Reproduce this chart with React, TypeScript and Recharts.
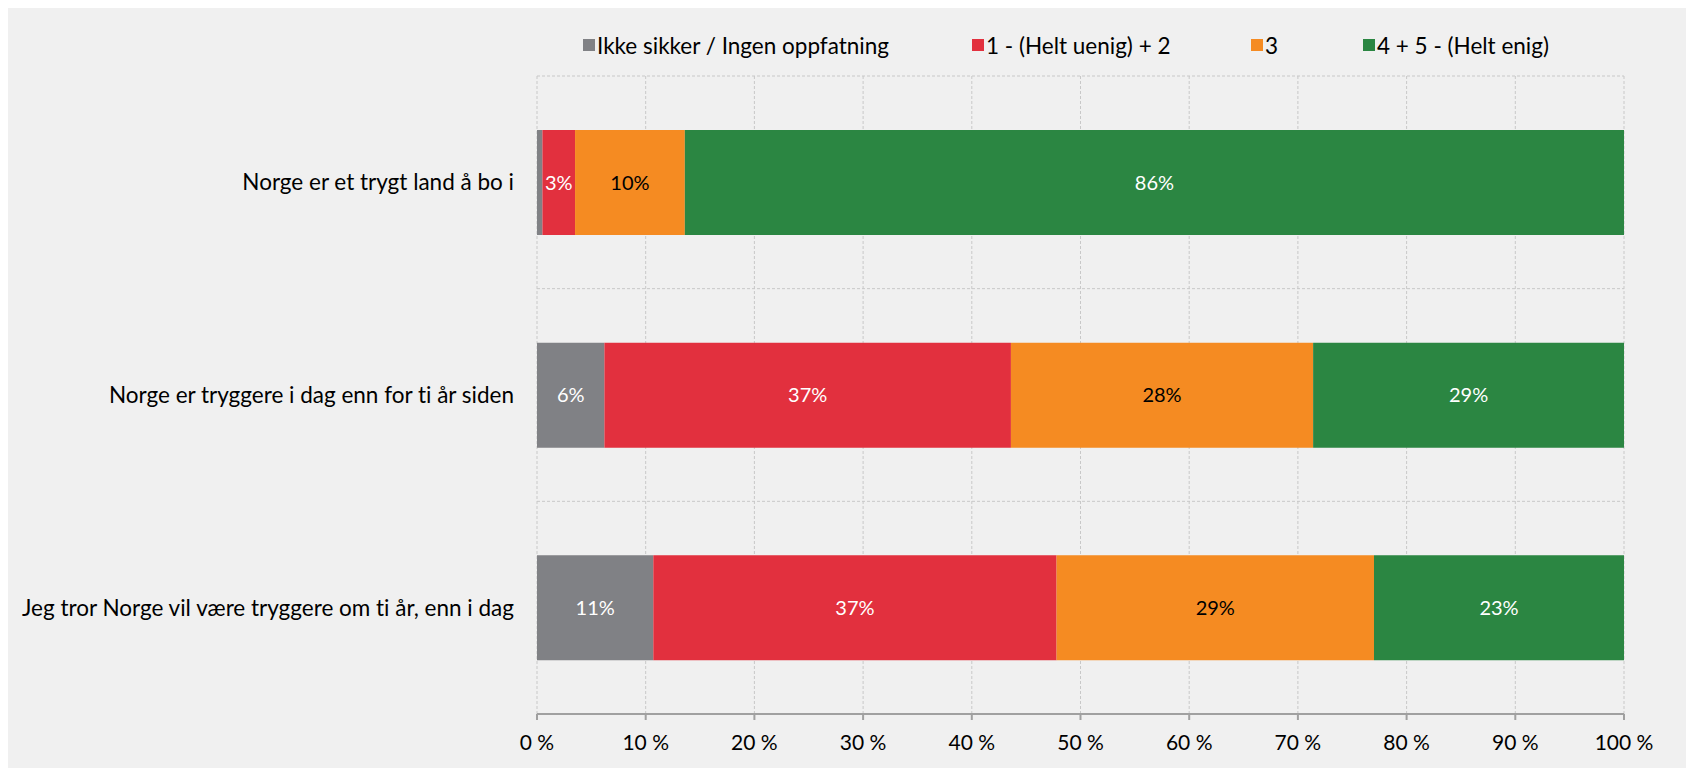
import React from "react";
import { BarChart, Bar, XAxis, YAxis, CartesianGrid, Legend, LabelList } from "recharts";

const categories = [
  "Norge er et trygt land å bo i",
  "Norge er tryggere i dag enn for ti år siden",
  "Jeg tror Norge vil være tryggere om ti år, enn i dag",
];
const seriesNames = ["Ikke sikker / Ingen oppfatning", "1 - (Helt uenig) + 2", "3", "4 + 5 - (Helt enig)"];
const ikkeSikker = [0.5, 6.2, 10.7];
const uenig = [3.0, 37.4, 37.1];
const noytral = [10.1, 27.8, 29.2];
const enig = [86.4, 28.6, 23.0];
const xTicks = [0, 10, 20, 30, 40, 50, 60, 70, 80, 90, 100];

const COLORS = ["#808185", "#e2303e", "#f58b22", "#2b8642"];
const LABEL_FILL = ["#ffffff", "#ffffff", "#000000", "#ffffff"];
const KEYS = ["ikke", "uenig", "noytral", "enig"];
const FONT = "Lato, 'Open Sans', sans-serif";

const data = categories.map((name, i) => ({
  name,
  ikke: ikkeSikker[i],
  uenig: uenig[i],
  noytral: noytral[i],
  enig: enig[i],
}));

const legendWidths = [389, 279, 112, 220];

const renderLegend = (props: any) => {
  const payload = [...(props.payload || [])].sort(
    (a: any, b: any) => seriesNames.indexOf(a.value) - seriesNames.indexOf(b.value)
  );
  return (
    <div
      style={{
        display: "flex",
        paddingLeft: 575,
        fontFamily: FONT,
        fontSize: 22.5,
        color: "#000",
        whiteSpace: "nowrap",
        height: 0,
        overflow: "visible",
        fontVariantLigatures: "none",
      }}
    >
      {payload.map((p: any, i: number) => (
        <div
          key={i}
          style={{ width: legendWidths[i], flexShrink: 0, display: "flex", alignItems: "center", height: 26 }}
        >
          <span style={{ width: 12, height: 12, background: p.color, display: "inline-block", marginRight: 2, flexShrink: 0 }} />
          <span>{p.value}</span>
        </div>
      ))}
    </div>
  );
};

const fmt = (v: any) => (Number(v) >= 1 ? `${Math.round(Number(v))}%` : "");

export default function App() {
  return (
    <div style={{ width: 1686, height: 760, background: "#f0f0f0" }}>
      <BarChart
        width={1686}
        height={760}
        data={data}
        layout="vertical"
        margin={{ top: 68, right: 70, bottom: 0, left: 0 }}
        barSize={105}
        style={{ fontFamily: FONT, fontVariantLigatures: "none" }}
      >
        <CartesianGrid
          stroke="#c8c8c8"
          strokeDasharray="3 2"
          vertical={true}
          horizontal={true}
          horizontalCoordinatesGenerator={({ offset }: any) => [
            offset.top,
            offset.top + offset.height / 3,
            offset.top + (2 * offset.height) / 3,
          ]}
        />
        <XAxis
          type="number"
          domain={[0, 100]}
          ticks={xTicks}
          tickFormatter={(v: number) => `${v} %`}
          height={54}
          axisLine={{ stroke: "#a0a0a0", strokeWidth: 2 }}
          tickLine={{ stroke: "#a0a0a0", strokeWidth: 2 }}
          tickSize={6}
          tickMargin={15}
          tick={{ fill: "#000", fontSize: 21, fontFamily: FONT }}
          interval={0}
        />
        <YAxis
          type="category"
          dataKey="name"
          width={529}
          axisLine={false}
          tickLine={false}
          tickSize={0}
          tickMargin={23}
          tick={{ fill: "#000", fontSize: 22.5, fontFamily: FONT }}
          interval={0}
        />
        <Legend
          verticalAlign="top"
          content={renderLegend}
          wrapperStyle={{ top: 24, left: 0, width: "100%", height: 0, overflow: "visible" }}
        />
        {KEYS.map((k, i) => (
          <Bar key={k} dataKey={k} name={seriesNames[i]} stackId="a" fill={COLORS[i]} isAnimationActive={false}>
            <LabelList
              dataKey={k}
              position="center"
              formatter={fmt}
              fill={LABEL_FILL[i]}
              style={{ fontSize: 20, fontFamily: FONT }}
            />
          </Bar>
        ))}
      </BarChart>
    </div>
  );
}
